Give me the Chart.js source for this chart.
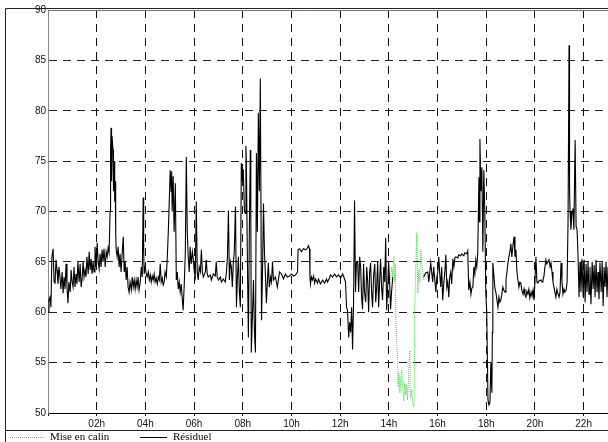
<!DOCTYPE html>
<html lang="fr">
<head>
  <meta charset="UTF-8">
  <title>Mise en calin / Résiduel</title>
  <script src="https://cdn.jsdelivr.net/npm/chart.js"></script>
  <style>
    body {
      margin: 0;
      background: #fff;
      width: 608px;
      height: 442px;
      overflow: hidden;
      position: relative;
    }

    #chart {
      position: absolute;
      left: 0;
      top: 0;
    }

    /* Legend row under the chart */
    .legend-item {
      position: absolute;
      font-family: 'Liberation Serif', serif;
      font-size: 11px;
      line-height: 11px;
      top: 431px;
      color: #000;
    }

    .legend-line {
      position: absolute;
      top: 437px;
      height: 0;
    }
  </style>
</head>
<body>
  <canvas id="chart" width="608" height="442"></canvas>

  <div class="legend-line" style="left:10px;width:33px;border-top:1px dotted #33dd33;"></div>
  <span class="legend-item" style="left:50px;">Mise en calin</span>
  <div class="legend-line" style="left:140px;width:27px;border-top:1px solid #000;"></div>
  <span class="legend-item" style="left:173px;">Résiduel</span>

  <script>
    // Hour ticks on the x axis
    const hourTicks = [2, 4, 6, 8, 10, 12, 14, 16, 18, 20, 22];
    const valueTicks = [50, 55, 60, 65, 70, 75, 80, 85, 90];

    // Mise en calin (green dotted), [hour, value]
    const miseEnCalin = [
      [14.07, 63.2], [14.12, 64.5], [14.16, 63.5], [14.20, 65.6], [14.24, 63.0], [14.26, 64.8],
      [14.28, 60.0], [14.32, 57.0], [14.36, 55.3], [14.38, 52.6], [14.41, 54.0], [14.45, 52.0],
      [14.49, 53.3], [14.53, 54.3], [14.57, 52.5], [14.61, 51.2], [14.65, 53.0], [14.69, 51.8],
      [14.73, 52.8], [14.77, 51.3], [14.81, 53.6], [14.86, 56.2], [14.88, 52.0], [14.90, 51.5],
      [14.94, 52.3], [14.98, 51.0], [15.02, 50.6], [15.04, 51.5], [15.06, 60.0], [15.10, 64.0],
      [15.14, 67.9], [15.19, 61.9], [15.23, 64.2], [15.27, 63.0], [15.31, 66.2], [15.35, 64.8],
      [15.39, 64.2], [15.43, 63.2]
    ];

    // Résiduel (black), [hour, value]; null marks the gap
    const residuel = [
      [0.00, 60.0], [0.04, 61.2], [0.08, 61.5], [0.12, 60.5], [0.16, 65.5], [0.21, 66.3],
      [0.25, 63.0], [0.29, 62.9], [0.33, 65.2], [0.37, 64.2], [0.41, 62.8], [0.45, 64.5],
      [0.49, 63.5], [0.53, 62.3], [0.58, 64.0], [0.62, 61.9], [0.66, 63.5], [0.70, 62.3],
      [0.74, 64.8], [0.78, 62.5], [0.82, 60.9], [0.86, 63.0], [0.91, 62.0], [0.95, 64.2],
      [0.99, 63.0], [1.03, 62.5], [1.07, 64.5], [1.11, 62.5], [1.15, 63.8], [1.19, 62.8],
      [1.23, 65.0], [1.28, 63.0], [1.32, 64.8], [1.36, 62.5], [1.40, 63.3], [1.44, 65.0],
      [1.48, 63.5], [1.52, 64.2], [1.56, 63.5], [1.60, 65.5], [1.65, 63.8], [1.69, 66.0],
      [1.73, 64.2], [1.77, 65.3], [1.81, 63.8], [1.85, 65.0], [1.89, 64.0], [1.93, 66.5],
      [1.98, 64.5], [2.02, 66.9], [2.06, 65.0], [2.10, 64.3], [2.14, 65.8], [2.18, 64.5],
      [2.22, 66.2], [2.26, 65.0], [2.30, 66.3], [2.35, 64.5], [2.39, 66.0], [2.43, 65.5],
      [2.47, 66.4], [2.51, 65.9], [2.55, 70.0], [2.57, 76.0], [2.59, 78.3], [2.61, 73.0],
      [2.63, 77.5], [2.67, 76.1], [2.69, 72.0], [2.72, 75.0], [2.74, 71.0], [2.76, 73.0],
      [2.78, 68.0], [2.80, 66.2], [2.84, 65.5], [2.88, 66.5], [2.92, 64.5], [2.96, 65.8],
      [3.00, 64.0], [3.05, 66.0], [3.09, 67.5], [3.13, 64.0], [3.17, 65.0], [3.21, 63.2],
      [3.25, 64.5], [3.29, 62.5], [3.33, 62.0], [3.37, 63.0], [3.42, 62.2], [3.46, 63.5],
      [3.50, 62.5], [3.54, 63.2], [3.58, 62.3], [3.62, 63.2], [3.66, 62.5], [3.70, 63.5],
      [3.74, 62.2], [3.79, 63.0], [3.83, 64.5], [3.87, 63.5], [3.91, 71.4], [3.93, 66.0],
      [3.95, 63.8], [3.99, 64.5], [4.03, 63.9], [4.07, 63.5], [4.12, 64.0], [4.16, 63.2],
      [4.20, 63.7], [4.24, 63.0], [4.28, 63.6], [4.32, 63.2], [4.36, 63.8], [4.40, 63.0],
      [4.44, 63.4], [4.49, 62.8], [4.53, 63.5], [4.57, 63.2], [4.61, 64.8], [4.65, 63.0],
      [4.69, 63.4], [4.73, 62.7], [4.77, 63.0], [4.81, 64.0], [4.86, 63.5], [4.90, 65.5],
      [4.94, 67.9], [4.98, 71.0], [5.02, 74.1], [5.06, 72.0], [5.08, 74.0], [5.10, 70.0],
      [5.14, 73.5], [5.18, 68.0], [5.23, 72.8], [5.27, 63.2], [5.31, 64.0], [5.35, 62.3],
      [5.39, 63.0], [5.43, 62.0], [5.47, 62.8], [5.51, 61.5], [5.55, 60.2], [5.60, 63.0],
      [5.64, 65.9], [5.68, 75.4], [5.72, 68.0], [5.76, 65.5], [5.80, 64.0], [5.84, 66.5],
      [5.88, 64.8], [5.93, 66.0], [5.97, 65.2], [6.01, 64.0], [6.05, 63.5], [6.09, 71.0],
      [6.13, 64.0], [6.17, 63.2], [6.21, 64.5], [6.26, 64.0], [6.30, 66.2], [6.34, 64.0],
      [6.38, 63.5], [6.46, 64.0], [6.50, 65.2], [6.54, 63.8], [6.58, 63.5], [6.67, 63.7],
      [6.71, 63.2], [6.79, 63.8], [6.87, 63.6], [6.91, 65.0], [6.95, 63.5], [7.00, 63.2],
      [7.08, 63.5], [7.12, 63.0], [7.20, 63.3], [7.28, 63.0], [7.33, 64.0], [7.37, 65.5],
      [7.41, 70.1], [7.45, 63.2], [7.49, 65.0], [7.53, 64.5], [7.57, 62.5], [7.61, 64.8],
      [7.65, 66.0], [7.70, 70.5], [7.74, 60.5], [7.78, 63.5], [7.82, 65.5], [7.86, 62.0],
      [7.90, 60.5], [7.94, 74.8], [7.98, 73.0], [8.02, 74.2], [8.07, 70.0], [8.11, 69.8],
      [8.13, 76.5], [8.15, 74.4], [8.19, 65.0], [8.23, 57.5], [8.27, 68.0], [8.31, 76.1],
      [8.33, 70.0], [8.35, 56.0], [8.40, 60.0], [8.44, 63.2], [8.48, 58.0], [8.52, 56.0],
      [8.56, 75.8], [8.60, 68.0], [8.64, 79.8], [8.68, 72.0], [8.72, 83.2], [8.77, 59.2],
      [8.81, 64.0], [8.85, 70.8], [8.89, 66.0], [8.93, 63.7], [8.97, 60.9], [9.01, 63.0],
      [9.05, 64.9], [9.09, 62.5], [9.14, 63.5], [9.18, 63.0], [9.22, 65.0], [9.26, 63.2],
      [9.34, 63.5], [9.42, 62.5], [9.51, 64.0], [9.59, 63.8], [9.67, 63.3], [9.75, 63.8],
      [9.83, 63.5], [9.92, 63.6], [10.00, 63.8], [10.08, 63.6], [10.16, 63.7], [10.25, 64.0],
      [10.27, 66.2], [10.33, 66.3], [10.41, 66.0], [10.49, 66.3], [10.58, 66.2], [10.66, 66.4],
      [10.70, 66.6], [10.74, 66.3], [10.76, 63.5], [10.78, 62.8], [10.82, 63.5], [10.86, 63.2],
      [10.91, 63.6], [10.95, 62.9], [10.99, 63.3], [11.07, 62.9], [11.11, 63.3], [11.19, 62.8],
      [11.28, 63.2], [11.36, 62.9], [11.44, 63.3], [11.48, 63.0], [11.56, 63.4], [11.60, 63.7],
      [11.69, 63.5], [11.77, 63.8], [11.85, 63.5], [11.93, 63.7], [12.02, 63.4], [12.10, 63.8],
      [12.18, 63.3], [12.22, 63.0], [12.26, 60.5], [12.30, 60.2], [12.35, 57.5], [12.39, 59.0],
      [12.43, 58.0], [12.47, 60.5], [12.51, 56.3], [12.55, 61.0], [12.59, 71.1], [12.63, 62.0],
      [12.67, 65.0], [12.72, 64.9], [12.76, 62.0], [12.80, 65.5], [12.84, 64.5], [12.88, 61.5],
      [12.92, 60.3], [12.96, 64.8], [13.00, 62.0], [13.05, 61.0], [13.09, 64.5], [13.13, 63.0],
      [13.17, 60.0], [13.21, 64.0], [13.25, 64.9], [13.29, 62.0], [13.33, 60.5], [13.37, 63.5],
      [13.42, 64.8], [13.46, 61.0], [13.50, 62.5], [13.54, 65.0], [13.58, 60.5], [13.62, 63.0],
      [13.66, 65.3], [13.70, 62.5], [13.74, 61.2], [13.79, 64.5], [13.83, 63.0], [13.87, 67.4],
      [13.91, 60.2], [13.95, 62.5], [13.99, 65.0], [14.03, 63.0], [14.07, 60.3], [14.11, 62.0],
      [14.16, 63.5], [14.20, null],
      [15.43, 63.5], [15.51, 63.9], [15.60, 64.0], [15.64, 63.0], [15.72, 64.9], [15.80, 63.0],
      [15.84, 64.5], [15.93, 62.0], [15.97, 63.5], [16.01, 64.0], [16.05, 65.5], [16.09, 63.8],
      [16.13, 62.5], [16.17, 64.5], [16.21, 61.2], [16.26, 63.0], [16.30, 64.0], [16.34, 65.7],
      [16.38, 62.5], [16.42, 63.0], [16.46, 61.5], [16.50, 63.5], [16.54, 64.0], [16.58, 62.8],
      [16.63, 65.3], [16.67, 64.5], [16.71, 65.4], [16.75, 65.5], [16.83, 65.4], [16.87, 65.7],
      [16.95, 65.6], [17.00, 65.8], [17.08, 65.6], [17.12, 65.9], [17.20, 65.8], [17.24, 66.1],
      [17.28, 62.2], [17.33, 63.0], [17.37, 61.8], [17.41, 62.4], [17.45, 62.5], [17.49, 64.5],
      [17.53, 63.8], [17.57, 65.2], [17.61, 64.5], [17.65, 65.9], [17.70, 73.4], [17.72, 69.0],
      [17.74, 77.2], [17.78, 72.0], [17.82, 74.4], [17.86, 66.0], [17.90, 74.1], [17.94, 70.0],
      [17.98, 62.0], [18.02, 60.0], [18.07, 51.3], [18.11, 50.8], [18.15, 51.0], [18.19, 55.0],
      [18.23, 52.0], [18.25, 58.0], [18.27, 64.9], [18.31, 63.8], [18.35, 62.5], [18.40, 61.9],
      [18.44, 61.2], [18.48, 60.5], [18.52, 61.5], [18.56, 61.0], [18.60, 61.2], [18.64, 61.8],
      [18.68, 62.5], [18.72, 62.2], [18.77, 62.0], [18.81, 63.2], [18.85, 64.0], [18.89, 64.9],
      [18.93, 65.5], [18.97, 66.0], [19.01, 66.8], [19.05, 65.5], [19.09, 66.5], [19.14, 67.5],
      [19.18, 65.5], [19.22, 66.2], [19.26, 64.0], [19.30, 63.2], [19.34, 62.5], [19.38, 63.0],
      [19.42, 62.9], [19.46, 62.2], [19.51, 61.8], [19.55, 62.3], [19.59, 61.7], [19.63, 61.5],
      [19.67, 62.1], [19.71, 61.8], [19.75, 62.3], [19.79, 61.4], [19.84, 62.0], [19.88, 61.6],
      [19.92, 62.2], [19.96, 61.2], [20.00, 63.0], [20.04, 65.5], [20.08, 63.0], [20.12, 62.9],
      [20.16, 63.1], [20.25, 63.2], [20.29, 63.0], [20.33, 63.2], [20.37, 63.6], [20.41, 64.5],
      [20.45, 65.2], [20.49, 64.8], [20.53, 65.0], [20.58, 65.2], [20.62, 64.5], [20.66, 64.9],
      [20.70, 64.0], [20.74, 63.0], [20.78, 62.5], [20.82, 62.0], [20.86, 61.5], [20.90, 62.3],
      [20.95, 61.8], [20.99, 61.5], [21.03, 62.0], [21.07, 64.9], [21.11, 63.0], [21.15, 61.8],
      [21.19, 62.3], [21.23, 62.0], [21.28, 62.2], [21.32, 63.0], [21.36, 69.2], [21.40, 86.5],
      [21.42, 72.4], [21.44, 70.0], [21.48, 68.2], [21.52, 70.0], [21.56, 70.2], [21.60, 68.2],
      [21.65, 77.1], [21.69, 68.5], [21.73, 68.2], [21.77, 65.5], [21.81, 61.5], [21.85, 65.0],
      [21.89, 62.0], [21.93, 65.3], [21.98, 61.5], [22.02, 65.2], [22.06, 61.0], [22.10, 64.8],
      [22.14, 62.0], [22.18, 65.0], [22.22, 61.8], [22.26, 64.5], [22.30, 60.8], [22.35, 65.0],
      [22.39, 62.3], [22.43, 64.7], [22.47, 61.5], [22.51, 65.2], [22.55, 62.0], [22.59, 64.0],
      [22.63, 61.3], [22.67, 64.9], [22.72, 62.0], [22.76, 65.0], [22.80, 60.6], [22.84, 64.5],
      [22.88, 62.5], [22.92, 65.0], [22.96, 61.5], [23.00, 64.5]
    ];

    const toPoints = rows => rows.map(([h, v]) => ({ x: h, y: v }));
    const hourLabel = v => (v < 10 ? '0' : '') + v + 'h';

    // Frame lines around the plot and above the legend
    const framePlugin = {
      id: 'frame',
      afterDraw(chart) {
        const { ctx, chartArea } = chart;
        ctx.save();
        ctx.lineWidth = 1;
        ctx.strokeStyle = '#222';
        ctx.beginPath();
        ctx.moveTo(5.5, 442);
        ctx.lineTo(5.5, 8.5);
        ctx.lineTo(608, 8.5);
        ctx.moveTo(5, 430.5);
        ctx.lineTo(608, 430.5);
        ctx.stroke();
        ctx.strokeStyle = '#777';
        ctx.beginPath();
        ctx.moveTo(chartArea.left, chartArea.top + 0.5);
        ctx.lineTo(chartArea.right, chartArea.top + 0.5);
        ctx.stroke();
        ctx.restore();
      }
    };

    new Chart(document.getElementById('chart'), {
      type: 'line',
      data: {
        datasets: [{
          label: 'Mise en calin',
          data: toPoints(miseEnCalin),
          borderColor: '#33dd33',
          borderWidth: 1,
          borderDash: [1, 1],
          pointRadius: 0,
          tension: 0
        }, {
          label: 'Résiduel',
          data: toPoints(residuel),
          borderColor: '#000',
          borderWidth: 1.1,
          pointRadius: 0,
          tension: 0,
          spanGaps: false
        }]
      },
      options: {
        responsive: false,
        animation: false,
        layout: { padding: { left: 0, top: 10, right: 0, bottom: 10 } },
        plugins: {
          legend: { display: false },
          tooltip: { enabled: false }
        },
        scales: {
          x: {
            type: 'linear',
            min: 0,
            max: 23,
            afterFit: s => { s.height = 19; },
            afterBuildTicks: s => { s.ticks = [0].concat(hourTicks).map(v => ({ value: v })); },
            ticks: {
              callback: v => (v === 0 ? '' : hourLabel(v)),
              font: { family: 'Liberation Sans', size: 10 },
              color: '#111',
              padding: 2,
              maxRotation: 0,
              autoSkip: false
            },
            grid: { color: '#111', tickLength: 3, lineWidth: 1 },
            border: { color: '#000', dash: [8, 6] }
          },
          y: {
            min: 50,
            max: 90,
            afterFit: s => { s.width = 48; },
            afterBuildTicks: s => { s.ticks = valueTicks.map(v => ({ value: v })); },
            ticks: {
              font: { family: 'Liberation Sans', size: 10 },
              color: '#111',
              padding: 2
            },
            grid: { color: '#222', drawTicks: false, lineWidth: 1 },
            border: { color: '#888', dash: [8, 6] }
          }
        }
      },
      plugins: [framePlugin]
    });
  </script>
</body>
</html>
